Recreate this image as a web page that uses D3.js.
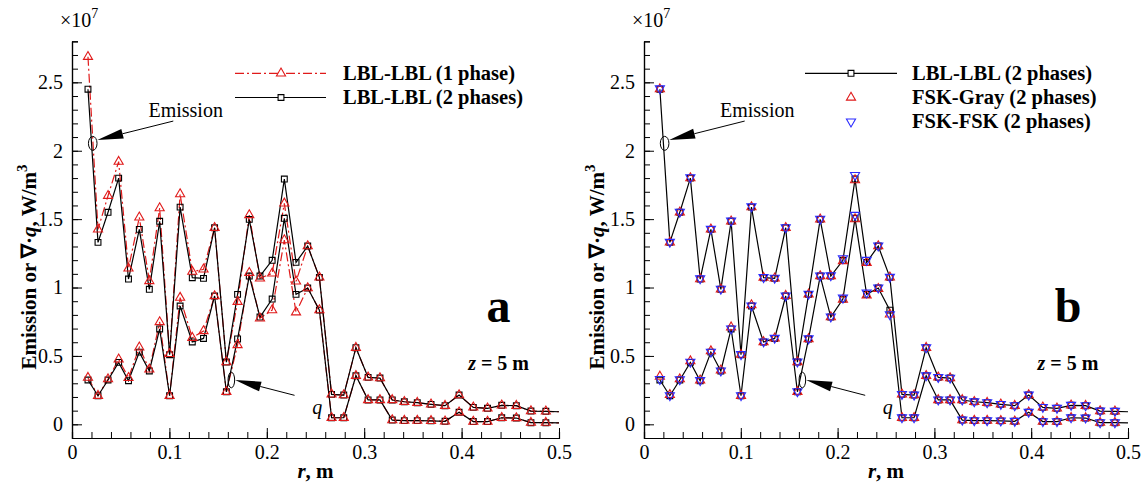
<!DOCTYPE html>
<html>
<head>
<meta charset="utf-8">
<script src="https://cdn.jsdelivr.net/npm/d3@7"></script>
<style>
  body { margin: 0; background: #fff; }
  svg, svg text { font-family: "Liberation Serif", "Times New Roman", serif; }
  svg { display: block; }
</style>
</head>
<body>
<svg id="chart"></svg>
<script>
// Radial grid positions, m (last point closes the line at the wall)
var radius = [0.0164, 0.0267, 0.0370, 0.0479, 0.0580, 0.0691, 0.0794, 0.0900, 0.1002, 0.1110,
  0.1235, 0.1350, 0.1464, 0.1585, 0.1700, 0.1820, 0.1930, 0.2055, 0.2180, 0.2300,
  0.2420, 0.2540, 0.2665, 0.2790, 0.2915, 0.3040, 0.3162, 0.3288, 0.3412, 0.3545,
  0.3686, 0.3830, 0.3974, 0.4120, 0.4266, 0.4412, 0.4562, 0.4712, 0.4865, 0.5000];

// Values in 10^7 W/m^3
var emissionLbl2 = [2.450, 1.330, 1.550, 1.800, 1.062, 1.425, 0.987, 1.484, 0.509, 1.588,
  1.072, 1.067, 1.437, 0.455, 0.950, 1.498, 1.084, 1.199, 1.793, 1.184,
  1.303, 1.074, 0.219, 0.214, 0.560, 0.343, 0.338, 0.178, 0.165, 0.158,
  0.146, 0.136, 0.214, 0.124, 0.117, 0.139, 0.136, 0.097, 0.095, 0.092];
var qLbl2 = [0.324, 0.209, 0.324, 0.453, 0.319, 0.528, 0.390, 0.697, 0.209, 0.865,
  0.602, 0.628, 0.938, 0.238, 0.624, 1.084, 0.784, 0.916, 1.506, 0.950,
  0.996, 0.835, 0.048, 0.048, 0.355, 0.178, 0.178, 0.031, 0.027, 0.027,
  0.025, 0.022, 0.088, 0.020, 0.020, 0.048, 0.046, 0.012, 0.012, 0.010];
var emissionLbl1 = [2.687, 1.425, 1.671, 1.920, 1.140, 1.513, 1.048, 1.581, 0.515, 1.683,
  1.116, 1.133, 1.437, 0.455, 0.896, 1.530, 1.067, 1.104, 1.615, 1.045,
  1.303, 1.074, 0.219, 0.214, 0.560, 0.343, 0.338, 0.178, 0.165, 0.158,
  0.146, 0.136, 0.214, 0.124, 0.117, 0.139, 0.136, 0.097, 0.095, 0.092];
var qLbl1 = [0.341, 0.209, 0.330, 0.475, 0.340, 0.563, 0.402, 0.748, 0.209, 0.926,
  0.633, 0.682, 0.938, 0.238, 0.580, 1.108, 0.775, 0.835, 1.347, 0.819,
  0.996, 0.835, 0.048, 0.048, 0.355, 0.178, 0.178, 0.031, 0.027, 0.027,
  0.025, 0.022, 0.088, 0.020, 0.020, 0.048, 0.046, 0.012, 0.012, 0.010];
var emissionGray = [2.450, 1.330, 1.550, 1.800, 1.062, 1.425, 0.987, 1.484, 0.509, 1.588,
  1.072, 1.067, 1.437, 0.455, 0.950, 1.498, 1.084, 1.194, 1.785, 1.181,
  1.303, 1.074, 0.219, 0.214, 0.560, 0.343, 0.338, 0.178, 0.165, 0.158,
  0.146, 0.136, 0.214, 0.124, 0.117, 0.139, 0.136, 0.097, 0.095, 0.092];
var qGray = [0.350, 0.215, 0.330, 0.462, 0.322, 0.535, 0.395, 0.710, 0.209, 0.872,
  0.602, 0.628, 0.940, 0.238, 0.624, 1.084, 0.784, 0.912, 1.500, 0.943,
  0.990, 0.804, 0.048, 0.048, 0.355, 0.178, 0.178, 0.031, 0.027, 0.027,
  0.025, 0.022, 0.088, 0.020, 0.020, 0.048, 0.046, 0.012, 0.012, 0.010];
var emissionFsk = [2.455, 1.333, 1.553, 1.805, 1.066, 1.428, 0.990, 1.488, 0.512, 1.592,
  1.075, 1.070, 1.440, 0.458, 0.953, 1.502, 1.088, 1.213, 1.822, 1.201,
  1.306, 1.077, 0.221, 0.216, 0.562, 0.345, 0.340, 0.180, 0.167, 0.160,
  0.148, 0.138, 0.216, 0.126, 0.119, 0.141, 0.138, 0.099, 0.097, 0.092];
var qFsk = [0.330, 0.212, 0.328, 0.456, 0.322, 0.530, 0.392, 0.700, 0.212, 0.868,
  0.605, 0.631, 0.941, 0.241, 0.627, 1.087, 0.787, 0.925, 1.530, 0.962,
  0.999, 0.804, 0.050, 0.050, 0.357, 0.180, 0.180, 0.033, 0.029, 0.029,
  0.027, 0.024, 0.090, 0.022, 0.022, 0.050, 0.048, 0.014, 0.014, 0.010];

var xTicks = [0, 0.1, 0.2, 0.3, 0.4, 0.5];
var yTicks = [0, 0.5, 1, 1.5, 2, 2.5];
var xTickLabels = ["0", "0.1", "0.2", "0.3", "0.4", "0.5"];
var yTickLabels = ["0", "0.5", "1", "1.5", "2", "2.5"];
var legendA = ["LBL-LBL (1 phase)", "LBL-LBL (2 phases)"];
var legendB = ["LBL-LBL (2 phases)", "FSK-Gray (2 phases)", "FSK-FSK (2 phases)"];

var width = 1146, height = 483;
var red = "#e01a1a", blue = "#2b2bff";
var serif = "Liberation Serif, Times New Roman, serif";

var svg = d3.select("#chart")
  .attr("width", width)
  .attr("height", height);

svg.append("rect").attr("width", width).attr("height", height).attr("fill", "#fff");

function pairs(vals) {
  return radius.map(function(r, i) { return [r, vals[i]]; });
}

var symSquare = d3.symbol().type(d3.symbolSquare).size(34);
var symTri = d3.symbol().type(d3.symbolTriangle).size(36);

function drawPanel(x0, x1, cfg) {
  var x = d3.scaleLinear().domain([0, 0.5]).range([x0, x1]);
  var y = d3.scaleLinear().domain([-0.1, 2.8]).range([438, 41.3]);
  var g = svg.append("g").attr("font-family", serif);

  // minor ticks
  g.append("g")
    .attr("transform", "translate(0," + y(-0.1) + ")")
    .call(d3.axisBottom(x).tickValues(d3.range(0, 0.5, 0.02)).tickSize(-6).tickFormat(""));
  g.append("g")
    .attr("transform", "translate(" + x(0) + ",0)")
    .call(d3.axisLeft(y).tickValues(d3.range(-1, 29).map(function(d) { return d / 10; })).tickSize(-6).tickFormat(""));

  // major ticks + labels
  g.append("g")
    .attr("transform", "translate(0," + y(-0.1) + ")")
    .call(d3.axisBottom(x).tickValues(xTicks).tickSizeInner(-10).tickSizeOuter(0).tickPadding(7)
      .tickFormat(function(d, i) { return xTickLabels[i]; }));
  g.append("g")
    .attr("transform", "translate(" + x(0) + ",0)")
    .call(d3.axisLeft(y).tickValues(yTicks).tickSizeInner(-10).tickSizeOuter(0).tickPadding(9)
      .tickFormat(function(d, i) { return yTickLabels[i]; }));

  g.selectAll("g").attr("font-family", serif).attr("font-size", 20);
  g.selectAll(".tick text").attr("fill", "#000");
  g.selectAll(".domain").attr("stroke", "#000").attr("stroke-width", 1.2);
  g.selectAll(".tick line").attr("stroke", "#000");

  // axis titles
  g.append("text")
    .attr("x", x0 - 12).attr("y", 26.5)
    .attr("font-size", 20)
    .html('×10<tspan dy="-9" font-size="14">7</tspan>');

  var yt = g.append("text")
    .attr("transform", "translate(" + cfg.titleX + ",267) rotate(-90)")
    .attr("text-anchor", "middle")
    .attr("font-size", 21).attr("font-weight", "bold");
  yt.append("tspan").text("Emission or \u2207\u00b7");
  yt.append("tspan").attr("font-style", "italic").text("q");
  yt.append("tspan").text(", W/m");
  yt.append("tspan").attr("dy", -9).attr("font-size", 15).text("3");

  var xt = g.append("text")
    .attr("x", (x0 + x1) / 2).attr("y", 478)
    .attr("text-anchor", "middle")
    .attr("font-size", 21).attr("font-weight", "bold");
  xt.append("tspan").attr("font-style", "italic").text("r");
  xt.append("tspan").text(", m");

  var line = d3.line()
    .x(function(d) { return x(d[0]); })
    .y(function(d) { return y(d[1]); });

  // lines
  cfg.lines.forEach(function(s) {
    g.append("path")
      .attr("d", line(pairs(s.values)))
      .attr("fill", "none")
      .attr("stroke", s.color)
      .attr("stroke-width", 1.2)
      .attr("stroke-dasharray", s.dash || null);
  });

  // markers (none on the closing wall point)
  cfg.markers.forEach(function(s) {
    g.selectAll(null)
      .data(pairs(s.values).slice(0, radius.length - 1))
      .enter().append("path")
      .attr("d", s.shape === "square" ? symSquare : symTri)
      .attr("transform", function(d) {
        return "translate(" + x(d[0]) + "," + y(d[1]) + ")" + (s.shape === "down" ? " rotate(180)" : "");
      })
      .attr("fill", "none")
      .attr("stroke", s.color)
      .attr("stroke-width", 1.1);
  });

  // annotations: ellipse + arrow + label
  function arrow(tip, tail) {
    var tx = x(tip[0]), ty = y(tip[1]), sx = x(tail[0]), sy = y(tail[1]);
    var dx = sx - tx, dy = sy - ty, len = Math.sqrt(dx * dx + dy * dy);
    var ux = dx / len, uy = dy / len;
    var bx = tx + ux * 26, by = ty + uy * 26;
    g.append("line").attr("x1", bx).attr("y1", by).attr("x2", sx).attr("y2", sy)
      .attr("stroke", "#000").attr("stroke-width", 1);
    g.append("path")
      .attr("d", "M" + tx + "," + ty + "L" + (bx - uy * 5) + "," + (by + ux * 5) +
        "L" + (bx + uy * 5) + "," + (by - ux * 5) + "Z")
      .attr("fill", "#000");
  }

  g.append("ellipse").attr("cx", x(0.0213)).attr("cy", y(2.054)).attr("rx", 4.3).attr("ry", 7)
    .attr("fill", "none").attr("stroke", "#000");
  arrow([0.026, 2.078], [0.104, 2.217]);
  g.append("text").attr("x", x(0.0785)).attr("y", y(2.244))
    .attr("font-size", 20).text("Emission");

  g.append("ellipse").attr("cx", x(0.1636)).attr("cy", y(0.324)).attr("rx", 3.3).attr("ry", 7.8)
    .attr("fill", "none").attr("stroke", "#000");
  arrow([0.1675, 0.324], [0.2285, 0.212]);
  g.append("text").attr("x", x(0.2467)).attr("y", y(0.079))
    .attr("font-size", 20).attr("font-style", "italic").text("q");

  // panel letter and z label
  g.append("text").attr("x", x(0.438)).attr("y", y(0.751))
    .attr("text-anchor", "middle")
    .attr("font-size", 48).attr("font-weight", "bold").text(cfg.letter);
  var zt = g.append("text").attr("x", x(0.438)).attr("y", y(0.397))
    .attr("text-anchor", "middle")
    .attr("font-size", 20).attr("font-weight", "bold");
  zt.append("tspan").attr("font-style", "italic").text("z");
  zt.append("tspan").text(" = 5 m");

  // legend
  var lg = g.append("g");
  cfg.legend.forEach(function(item, i) {
    var ly = 73.3 + i * 24.2;
    if (item.line) {
      lg.append("line").attr("x1", cfg.legX0).attr("x2", cfg.legX1).attr("y1", ly).attr("y2", ly)
        .attr("stroke", item.color).attr("stroke-width", 1.2)
        .attr("stroke-dasharray", item.dash || null);
    }
    lg.append("path")
      .attr("d", item.shape === "square" ? symSquare : symTri)
      .attr("transform", "translate(" + cfg.legMark + "," + ly + ")" + (item.shape === "down" ? " rotate(180)" : ""))
      .attr("fill", item.line ? "#fff" : "none")
      .attr("stroke", item.color).attr("stroke-width", 1.1);
    lg.append("text").attr("x", cfg.legText).attr("y", ly + 6.5)
      .attr("font-size", 20.5).attr("font-weight", "bold").text(item.label);
  });
}

var dashDot = "9,3,2,3";

// Panel a
drawPanel(72, 559, {
  titleX: 36,
  letter: "a",
  lines: [
    { values: emissionLbl1, color: red, dash: dashDot },
    { values: qLbl1, color: red, dash: dashDot },
    { values: emissionLbl2, color: "#000" },
    { values: qLbl2, color: "#000" }
  ],
  markers: [
    { values: emissionLbl2, color: "#000", shape: "square" },
    { values: qLbl2, color: "#000", shape: "square" },
    { values: emissionLbl1, color: red, shape: "up" },
    { values: qLbl1, color: red, shape: "up" }
  ],
  legend: [
    { label: legendA[0], color: red, dash: dashDot, line: true, shape: "up" },
    { label: legendA[1], color: "#000", line: true, shape: "square" }
  ],
  legX0: 235, legX1: 326, legMark: 281, legText: 343
});

// Panel b
drawPanel(644, 1128, {
  titleX: 604,
  letter: "b",
  lines: [
    { values: emissionLbl2, color: "#000" },
    { values: qLbl2, color: "#000" }
  ],
  markers: [
    { values: emissionLbl2, color: "#000", shape: "square" },
    { values: qLbl2, color: "#000", shape: "square" },
    { values: emissionGray, color: red, shape: "up" },
    { values: qGray, color: red, shape: "up" },
    { values: emissionFsk, color: blue, shape: "down" },
    { values: qFsk, color: blue, shape: "down" }
  ],
  legend: [
    { label: legendB[0], color: "#000", line: true, shape: "square" },
    { label: legendB[1], color: red, shape: "up" },
    { label: legendB[2], color: blue, shape: "down" }
  ],
  legX0: 805, legX1: 897, legMark: 851, legText: 912
});
</script>
</body>
</html>
